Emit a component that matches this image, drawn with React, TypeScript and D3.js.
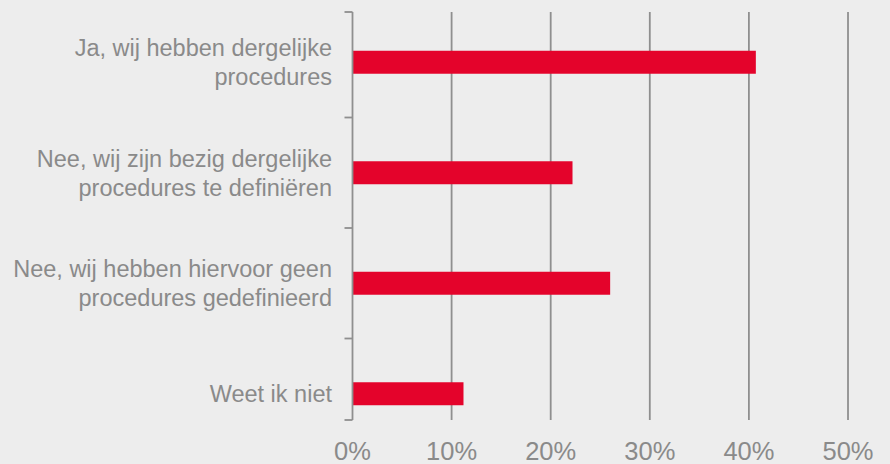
import React from "react";
import * as d3 from "d3";

const categories: string[][] = [
  ["Ja, wij hebben dergelijke", "procedures"],
  ["Nee, wij zijn bezig dergelijke", "procedures te definiëren"],
  ["Nee, wij hebben hiervoor geen", "procedures gedefinieerd"],
  ["Weet ik niet"],
];
const values: number[] = [40.7, 22.2, 26.0, 11.2];
const tickValues: number[] = [0, 10, 20, 30, 40, 50];

const W = 890;
const H = 464;
const BG = "#ededed";
const BAR = "#e4032b";
const GRID = "#8f8f8f";
const TEXT = "#8a8a8a";
const FONT = "'Liberation Sans', Arial, Helvetica, sans-serif";

export default function App() {
  const keys = categories.map((c) => c.join(" "));
  const x = d3.scaleLinear().domain([0, 50]).range([352.5, 848]);
  const y = d3
    .scaleBand<string>()
    .domain(keys)
    .range([7, 449])
    .paddingInner(0.792)
    .paddingOuter(0.396);
  const axisTop = 12;
  const axisBottom = 420;
  const step = y.step();
  const internalTicks = keys
    .slice(1)
    .map((k) => (y(k) as number) - (step - y.bandwidth()) / 2);
  const yTicks = [axisTop, ...internalTicks, axisBottom];
  const lineH = 29;

  return (
    <svg
      width={W}
      height={H}
      style={{ position: "absolute", left: 0, top: 0, background: BG }}
    >
      <rect x={0} y={0} width={W} height={H} fill={BG} />
      {tickValues
        .filter((t) => t > 0)
        .map((t) => (
          <line
            key={"g" + t}
            x1={x(t)}
            x2={x(t)}
            y1={axisTop}
            y2={axisBottom}
            stroke={GRID}
            strokeWidth={1.8}
          />
        ))}
      {values.map((v, i) => (
        <rect
          key={"b" + i}
          x={x(0)}
          y={y(keys[i])}
          width={x(v) - x(0)}
          height={y.bandwidth()}
          fill={BAR}
        />
      ))}
      <line
        x1={x(0)}
        x2={x(0)}
        y1={axisTop}
        y2={axisBottom}
        stroke={GRID}
        strokeWidth={1.8}
      />
      {yTicks.map((t, i) => (
        <line
          key={"t" + i}
          x1={x(0) - 8}
          x2={x(0)}
          y1={t}
          y2={t}
          stroke={GRID}
          strokeWidth={1.8}
        />
      ))}
      {categories.map((lines, i) => {
        const cy = (y(keys[i]) as number) + y.bandwidth() / 2;
        const n = lines.length;
        return (
          <text
            key={"l" + i}
            textAnchor="end"
            fontFamily={FONT}
            fontSize={23.5}
            fill={TEXT}
          >
            {lines.map((ln, j) => (
              <tspan
                key={j}
                x={332}
                y={cy + (j - (n - 1) / 2) * lineH + 8.5}
              >
                {ln}
              </tspan>
            ))}
          </text>
        );
      })}
      {tickValues.map((t) => (
        <text
          key={"x" + t}
          x={x(t)}
          y={460}
          textAnchor="middle"
          fontFamily={FONT}
          fontSize={25.5}
          fill={TEXT}
        >
          {t + "%"}
        </text>
      ))}
    </svg>
  );
}
